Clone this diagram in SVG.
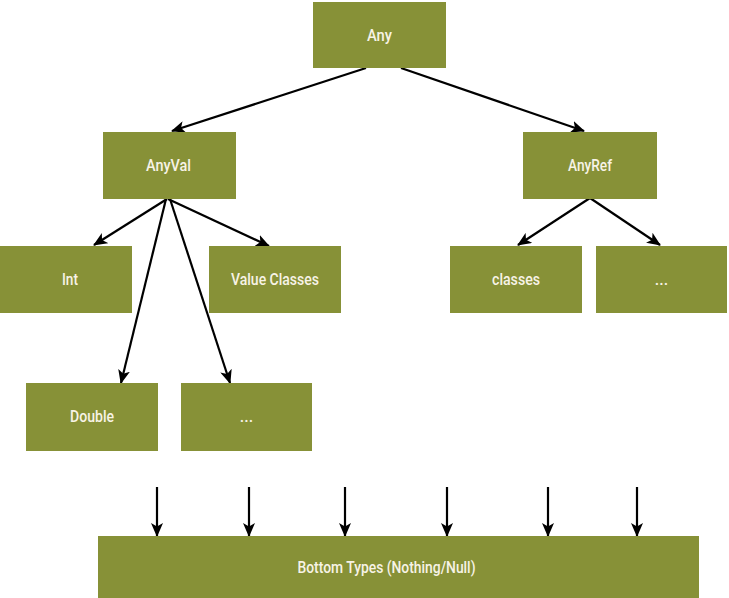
<svg xmlns="http://www.w3.org/2000/svg" width="729" height="598" viewBox="0 0 729 598">
<defs>
<style>
.box{fill:#879137;}
.lbl{font-family:Roboto,"Liberation Sans",Arial,sans-serif;font-weight:500;font-size:16px;fill:#f7f3e6;text-anchor:middle;}
.edge{stroke:#000;stroke-width:2.2;fill:none;marker-end:url(#ah);}
</style>
<marker id="ah" viewBox="0 0 14 12" refX="13" refY="6" markerWidth="14" markerHeight="12" markerUnits="userSpaceOnUse" orient="auto">
<path d="M0,0 L14,6 L0,12 L3.5,6 Z" fill="#000"/>
</marker>
</defs>
<rect width="729" height="598" fill="#fff"/>
<g id="connectors">
<line class="edge" x1="366" y1="68" x2="172" y2="131"/>
<line class="edge" x1="401" y1="68" x2="584" y2="131"/>
<line class="edge" x1="167" y1="199" x2="94" y2="245"/>
<line class="edge" x1="168" y1="199" x2="269" y2="246"/>
<line class="edge" x1="166" y1="199" x2="121" y2="383"/>
<line class="edge" x1="170" y1="199" x2="230" y2="383"/>
<line class="edge" x1="590" y1="198" x2="518" y2="245"/>
<line class="edge" x1="590" y1="198" x2="660" y2="245"/>
<line class="edge" x1="157" y1="487" x2="157" y2="536"/>
<line class="edge" x1="249" y1="487" x2="249" y2="536"/>
<line class="edge" x1="345" y1="487" x2="345" y2="536"/>
<line class="edge" x1="447" y1="487" x2="447" y2="536"/>
<line class="edge" x1="548" y1="487" x2="548" y2="536"/>
<line class="edge" x1="637" y1="487" x2="637" y2="536"/>
</g>
<g id="any"><rect class="box" x="313" y="2" width="133" height="66"/><text class="lbl" x="379.5" y="41" textLength="25" lengthAdjust="spacingAndGlyphs">Any</text></g>
<g id="anyval"><rect class="box" x="103" y="132" width="133" height="67"/><text class="lbl" x="168.5" y="171" textLength="45" lengthAdjust="spacingAndGlyphs">AnyVal</text></g>
<g id="anyref"><rect class="box" x="523" y="132" width="134" height="67"/><text class="lbl" x="590" y="171" textLength="44" lengthAdjust="spacingAndGlyphs">AnyRef</text></g>
<g id="int"><rect class="box" x="0" y="246" width="132" height="67"/><text class="lbl" x="70" y="285" textLength="16" lengthAdjust="spacingAndGlyphs">Int</text></g>
<g id="valueclasses"><rect class="box" x="209" y="246" width="132" height="67"/><text class="lbl" x="275" y="285" textLength="88" lengthAdjust="spacingAndGlyphs">Value Classes</text></g>
<g id="classes"><rect class="box" x="450" y="246" width="132" height="67"/><text class="lbl" x="516" y="285" textLength="48" lengthAdjust="spacingAndGlyphs">classes</text></g>
<g id="refmore"><rect class="box" x="596" y="246" width="131" height="67"/><text class="lbl" x="661.5" y="285">...</text></g>
<g id="double"><rect class="box" x="26" y="383" width="132" height="68"/><text class="lbl" x="92" y="422" textLength="44" lengthAdjust="spacingAndGlyphs">Double</text></g>
<g id="valmore"><rect class="box" x="181" y="383" width="131" height="68"/><text class="lbl" x="246.5" y="422">...</text></g>
<g id="bottom"><rect class="box" x="98" y="536" width="601" height="62"/><text class="lbl" x="386.5" y="573" textLength="178" lengthAdjust="spacingAndGlyphs">Bottom Types (Nothing/Null)</text></g>
</svg>
